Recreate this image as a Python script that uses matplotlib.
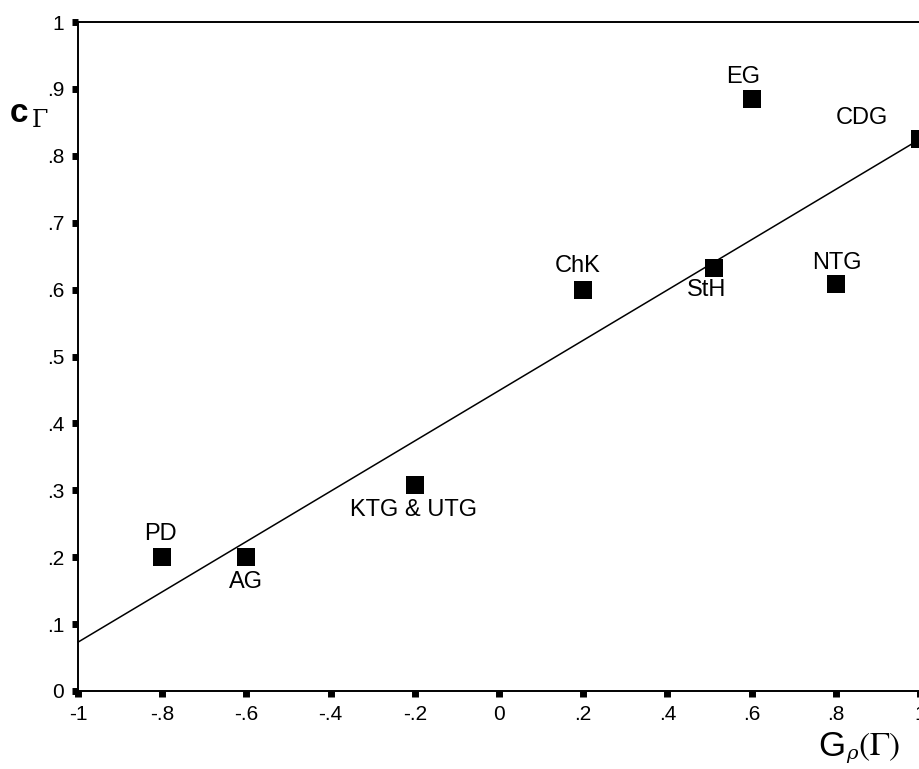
import numpy as np
import matplotlib.pyplot as plt
from matplotlib.ticker import FuncFormatter

plt.rcParams['font.family'] = ['Liberation Sans', 'DejaVu Sans']

groups = ['PD', 'AG', 'KTG & UTG', 'ChK', 'StH', 'EG', 'NTG', 'CDG']
g_rho = [-0.8, -0.6, -0.2, 0.2, 0.51, 0.6, 0.8, 1.0]
c_gamma = [0.2, 0.2, 0.308, 0.6, 0.632, 0.885, 0.608, 0.825]
# label placement relative to the marker (dx, dy in points)
label_pos = {'PD': (-1, 17), 'AG': (0, -18), 'KTG & UTG': (-1, -18), 'ChK': (-4, 17),
             'StH': (-5, -16), 'EG': (-6, 16), 'NTG': (1, 15), 'CDG': (-42, 15)}

# fitted line
fit_intercept = 0.449
fit_slope = 0.376

fig = plt.figure(figsize=(9.19, 7.69), dpi=100)
ax = fig.add_axes([78/919, 78/769, 842/919, 669/769])

xs = np.array([-1, 1])
ax.plot(xs, fit_intercept + fit_slope*xs, color='black', lw=1.1, clip_on=False)
ax.scatter(g_rho, c_gamma, marker='s', s=165, color='black', linewidths=0, zorder=3, clip_on=False)
for name, x, y in zip(groups, g_rho, c_gamma):
    dx, dy = label_pos[name]
    ax.annotate(name, (x, y), xytext=(dx, dy), textcoords='offset points',
                ha='center', va='center', fontsize=17)

ax.set_xlim(-1, 1)
ax.set_ylim(0, 1)
ax.set_xticks(np.arange(-1, 1.01, 0.2))
ax.set_yticks(np.arange(0, 1.01, 0.1))

def fmt(v, pos):
    if abs(v) < 1e-9:
        return '0'
    if abs(abs(v) - 1) < 1e-9:
        return '%d' % round(v)
    s = ('%.1f' % v).replace('0.', '.')
    return s

ax.xaxis.set_major_formatter(FuncFormatter(fmt))
ax.yaxis.set_major_formatter(FuncFormatter(fmt))
ax.tick_params(direction='out', length=4, width=5, labelsize=15, pad=6)
ax.spines['right'].set_visible(False)
for s in ['left', 'bottom', 'top']:
    ax.spines[s].set_linewidth(1.4)

fig.text(10/919, 1 - 113/769, 'c', fontsize=24, fontweight='bold', ha='left', va='center')
fig.text(31/919, 1 - 121/769, r'$\Gamma$', fontsize=17, ha='left', va='center', math_fontfamily='dejavuserif')
fig.text(818/919, 1 - 747/769, 'G', fontsize=25, ha='left', va='center')
fig.text(846/919, 1 - 756/769, r'$\rho$', fontsize=14, ha='left', va='center', math_fontfamily='dejavuserif')
fig.text(858/919, 1 - 747/769, r'$(\Gamma)$', fontsize=24, ha='left', va='center', math_fontfamily='stix')

fig.savefig('out.png', dpi=100)
